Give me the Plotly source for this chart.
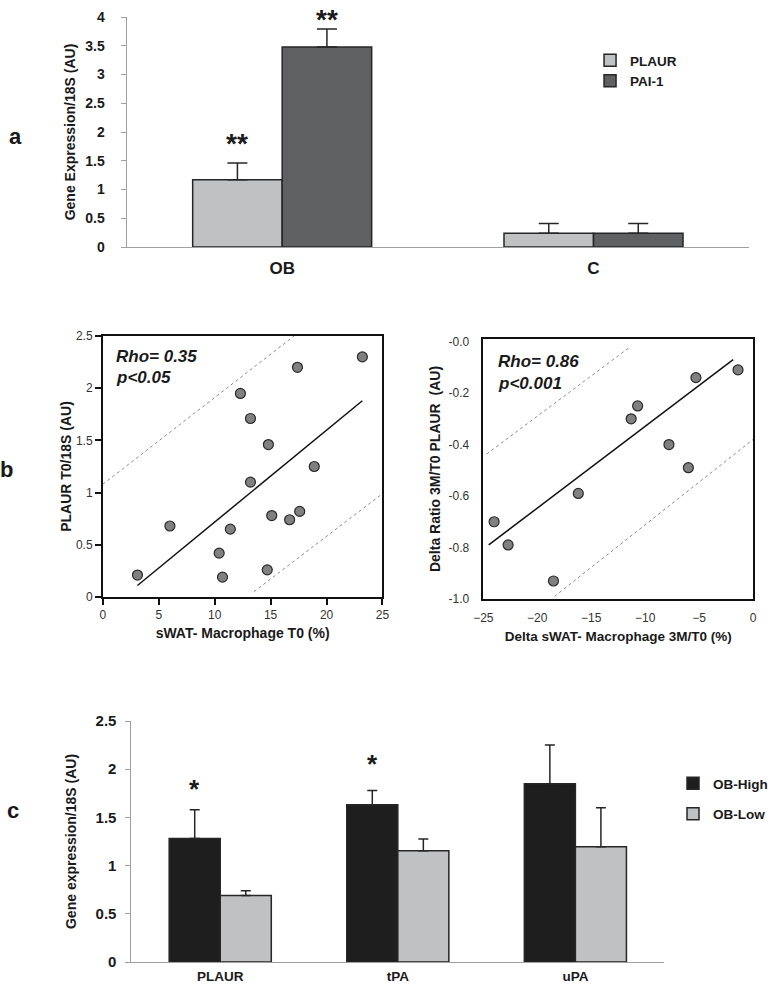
import plotly.graph_objects as go

# ---------------- data ----------------
# panel a
cats_a = ["OB", "C"]
plaur_a = [1.17, 0.24]
plaur_a_err = [0.29, 0.17]
pai1_a = [3.48, 0.24]
pai1_a_err = [0.31, 0.17]

# panel b (left)
mac_t0 = [3.1, 6.0, 10.4, 10.7, 11.4, 12.3, 13.2, 13.2, 14.8, 14.7, 15.1, 16.7, 17.6, 18.9, 17.4, 23.2]
plaur_t0 = [0.21, 0.68, 0.42, 0.19, 0.65, 1.95, 1.71, 1.10, 1.46, 0.26, 0.78, 0.74, 0.82, 1.25, 2.20, 2.30]
fit_l_x = [3.1, 23.2]
fit_l_y = [0.11, 1.88]
up_l_x = [0.0, 17.1]
up_l_y = [1.08, 2.50]
lo_l_x = [13.5, 25.0]
lo_l_y = [0.05, 0.99]

# panel b (right)
d_mac = [-24.0, -22.7, -18.5, -16.2, -11.3, -10.7, -7.8, -6.0, -5.3, -1.4]
d_plaur = [-0.70, -0.79, -0.93, -0.59, -0.30, -0.25, -0.40, -0.49, -0.14, -0.11]
fit_r_x = [-24.5, -1.85]
fit_r_y = [-0.79, -0.07]
up_r_x = [-24.7, -11.5]
up_r_y = [-0.437, -0.024]
lo_r_x = [-18.4, 0.0]
lo_r_y = [-0.99, -0.38]
r_yticks = [0.0, -0.2, -0.4, -0.6, -0.8, -1.0]
r_yticktext = ["-0.0", "-0.2", "-0.4", "-0.6", "-0.8", "-1.0"]
r_xticks = [-25, -20, -15, -10, -5, 0]

# panel c
cats_c = ["PLAUR", "tPA", "uPA"]
high_c = [1.28, 1.63, 1.85]
high_c_err = [0.30, 0.15, 0.40]
low_c = [0.69, 1.155, 1.195]
low_c_err = [0.05, 0.12, 0.405]

# ---------------- figure ----------------
W, H = 773, 986
FONT = "Liberation Sans, Arial, sans-serif"
LIGHT = "#c0c1c3"
DARK = "#5f6062"
BLACK = "#1e1e1e"
TXT = "#1a1a1a"


def px(p):
    return p / W


def py(p):
    return 1 - p / H


fig = go.Figure()

bar_line = dict(color="#262626", width=1.5)

# panel a
fig.add_trace(go.Bar(
    x=cats_a, y=plaur_a, name="PLAUR", marker=dict(color=LIGHT, line=bar_line),
    error_y=dict(type="data", symmetric=False, array=plaur_a_err, arrayminus=[0] * len(plaur_a),
                 color="#262626", thickness=1.5, width=10),
    xaxis="x", yaxis="y", legend="legend"))
fig.add_trace(go.Bar(
    x=cats_a, y=pai1_a, name="PAI-1", marker=dict(color=DARK, line=bar_line),
    error_y=dict(type="data", symmetric=False, array=pai1_a_err, arrayminus=[0] * len(pai1_a),
                 color="#262626", thickness=1.5, width=10),
    xaxis="x", yaxis="y", legend="legend"))

# panel b left
dot_line = dict(color="#8a8a8a", width=1, dash="dot")
fig.add_trace(go.Scatter(x=up_l_x, y=up_l_y, mode="lines", line=dot_line, showlegend=False,
                         xaxis="x2", yaxis="y2"))
fig.add_trace(go.Scatter(x=lo_l_x, y=lo_l_y, mode="lines", line=dot_line, showlegend=False,
                         xaxis="x2", yaxis="y2"))
fig.add_trace(go.Scatter(x=fit_l_x, y=fit_l_y, mode="lines", line=dict(color="#111", width=1.5),
                         showlegend=False, xaxis="x2", yaxis="y2"))
fig.add_trace(go.Scatter(x=mac_t0, y=plaur_t0, mode="markers",
                         marker=dict(size=10, color="#808080", line=dict(color="#2a2a2a", width=1.2)),
                         showlegend=False, xaxis="x2", yaxis="y2", cliponaxis=False))

# panel b right
fig.add_trace(go.Scatter(x=up_r_x, y=up_r_y, mode="lines", line=dot_line, showlegend=False,
                         xaxis="x3", yaxis="y3"))
fig.add_trace(go.Scatter(x=lo_r_x, y=lo_r_y, mode="lines", line=dot_line, showlegend=False,
                         xaxis="x3", yaxis="y3"))
fig.add_trace(go.Scatter(x=fit_r_x, y=fit_r_y, mode="lines", line=dict(color="#111", width=1.5),
                         showlegend=False, xaxis="x3", yaxis="y3"))
fig.add_trace(go.Scatter(x=d_mac, y=d_plaur, mode="markers",
                         marker=dict(size=10, color="#808080", line=dict(color="#2a2a2a", width=1.2)),
                         showlegend=False, xaxis="x3", yaxis="y3", cliponaxis=False))

# panel c
fig.add_trace(go.Bar(
    x=cats_c, y=high_c, name="OB-High", marker=dict(color=BLACK, line=bar_line),
    error_y=dict(type="data", symmetric=False, array=high_c_err, arrayminus=[0] * len(high_c),
                 color="#262626", thickness=1.5, width=5),
    xaxis="x4", yaxis="y4", legend="legend2", legendgroup="hi"))
fig.add_trace(go.Bar(
    x=cats_c, y=low_c, name="OB-Low", marker=dict(color=LIGHT, line=bar_line),
    error_y=dict(type="data", symmetric=False, array=low_c_err, arrayminus=[0] * len(low_c),
                 color="#262626", thickness=1.5, width=5),
    xaxis="x4", yaxis="y4", legend="legend2", legendgroup="lo"))

bold = dict(family=FONT, color=TXT, weight="bold")

common_bar_y = dict(showline=True, linecolor="#a0a0a0", linewidth=1, ticks="outside", ticklen=5,
                    tickcolor="#a0a0a0", showgrid=False, zeroline=False, automargin=False)
common_bar_x = dict(type="category", showline=True, linecolor="#a0a0a0", linewidth=1, ticks="",
                    showgrid=False, zeroline=False, automargin=False)
box = dict(showline=True, linecolor="#111", linewidth=1.5, mirror=True, showgrid=False,
           zeroline=False, automargin=False)

fig.update_layout(
    width=W, height=H, autosize=False,
    margin=dict(l=0, r=0, t=0, b=0),
    paper_bgcolor="white", plot_bgcolor="white",
    font=dict(family=FONT, color=TXT),
    barmode="group", bargap=0.425, bargroupgap=0,
    xaxis=dict(domain=[px(128), px(758)], anchor="y", range=[-0.5, 1.5],
               tickfont=dict(size=17, **bold), ticklabelstandoff=6, **common_bar_x),
    yaxis=dict(domain=[py(247), py(17)], anchor="x", range=[0, 4], dtick=0.5,
               tickfont=dict(size=14, **bold), ticklabelstandoff=13,
               title=dict(text="Gene Expression/18S (AU)", font=dict(size=14, **bold), standoff=6),
               **common_bar_y),
    xaxis2=dict(domain=[px(104), px(387)], anchor="y2", range=[0, 25], dtick=5,
                ticks="outside", ticklen=6, tickwidth=1.5, tickcolor="#111",
                tickfont=dict(size=12, family=FONT, color="#333"),
                title=dict(text="sWAT- Macrophage T0 (%)", font=dict(size=14, **bold), standoff=7),
                **box),
    yaxis2=dict(domain=[py(597), py(336)], anchor="x2", range=[0, 2.5], dtick=0.5,
                ticks="outside", ticklen=6, tickwidth=1.5, tickcolor="#111",
                tickfont=dict(size=12, family=FONT, color="#333"),
                title=dict(text="PLAUR T0/18S (AU)", font=dict(size=14, **bold), standoff=1),
                **box),
    xaxis3=dict(domain=[px(489), px(762)], anchor="y3", range=[-25, 0], tickvals=r_xticks,
                ticks="", tickfont=dict(size=12, family=FONT, color="#333"), ticklabelstandoff=7,
                title=dict(text="Delta sWAT- Macrophage 3M/T0 (%)", font=dict(size=13.5, **bold), standoff=7),
                **box),
    yaxis3=dict(domain=[py(599), py(339)], anchor="x3", range=[-1.0, 0.01], tickvals=r_yticks,
                ticktext=r_yticktext, ticks="", ticklabelstandoff=10,
                tickfont=dict(size=12, family=FONT, color="#333"),
                title=dict(text="Delta Ratio 3M/T0 PLAUR\u00a0 (AU)", font=dict(size=14, **bold), standoff=5),
                **box),
    xaxis4=dict(domain=[px(133), px(672)], anchor="y4", range=[-0.5, 2.5],
                tickfont=dict(size=13.5, **bold), ticklabelstandoff=2, **common_bar_x),
    yaxis4=dict(domain=[py(962), py(721)], anchor="x4", range=[0, 2.5], dtick=0.5,
                tickfont=dict(size=15, **bold), ticklabelstandoff=6,
                title=dict(text="Gene expression/18S (AU)", font=dict(size=14, **bold), standoff=15),
                **common_bar_y),
    legend=dict(x=px(597), y=py(45), xanchor="left", yanchor="top", bgcolor="rgba(0,0,0,0)",
                font=dict(size=13.5, **bold), itemwidth=30),
    legend2=dict(x=px(681), y=py(768), xanchor="left", yanchor="top", bgcolor="rgba(0,0,0,0)",
                 font=dict(size=13.5, **bold), itemwidth=30, traceorder="grouped", tracegroupgap=10),
)

off = (1 - 0.425) / 4  # centre offset of each bar within its group

annotations = [
    # panel labels
    dict(text="a", x=px(16), y=py(136), xref="paper", yref="paper", showarrow=False,
         xanchor="center", yanchor="middle", font=dict(size=22, **bold)),
    dict(text="b", x=px(7), y=py(469), xref="paper", yref="paper", showarrow=False,
         xanchor="center", yanchor="middle", font=dict(size=22, **bold)),
    dict(text="c", x=px(13), y=py(810), xref="paper", yref="paper", showarrow=False,
         xanchor="center", yanchor="middle", font=dict(size=22, **bold)),
    # significance marks panel a
    dict(text="**", x=0 - off, y=plaur_a[0] + plaur_a_err[0], xref="x", yref="y", showarrow=False,
         xanchor="center", yanchor="middle", yshift=20, font=dict(size=28, **bold)),
    dict(text="**", x=0 + off, y=pai1_a[0] + pai1_a_err[0], xref="x", yref="y", showarrow=False,
         xanchor="center", yanchor="middle", yshift=10, font=dict(size=28, **bold)),
    # significance marks panel c
    dict(text="*", x=0 - off, y=high_c[0] + high_c_err[0], xref="x4", yref="y4", showarrow=False,
         xanchor="center", yanchor="middle", yshift=21, font=dict(size=26, **bold)),
    dict(text="*", x=1 - off, y=high_c[1] + high_c_err[1], xref="x4", yref="y4", showarrow=False,
         xanchor="center", yanchor="middle", yshift=26, font=dict(size=26, **bold)),
    # correlation stats
    dict(text="<b><i>Rho= 0.35</i></b>", x=1.0, y=2.30, xref="x2", yref="y2", showarrow=False,
         xanchor="left", yanchor="middle", font=dict(size=17, family=FONT, color=TXT)),
    dict(text="<b><i>p<0.05</i></b>", x=1.0, y=2.10, xref="x2", yref="y2", showarrow=False,
         xanchor="left", yanchor="middle", font=dict(size=17, family=FONT, color=TXT)),
    dict(text="<b><i>Rho= 0.86</i></b>", x=-23.8, y=-0.078, xref="x3", yref="y3", showarrow=False,
         xanchor="left", yanchor="middle", font=dict(size=17, family=FONT, color=TXT)),
    dict(text="<b><i>p<0.001</i></b>", x=-23.8, y=-0.161, xref="x3", yref="y3", showarrow=False,
         xanchor="left", yanchor="middle", font=dict(size=17, family=FONT, color=TXT)),
]
fig.update_layout(annotations=annotations)

# remove the default 8px page margin so the 773x986 figure fills the window exactly
fig.write_html(
    "out.html",
    config={"displayModeBar": False},
    post_script="document.documentElement.style.overflow='hidden';"
                "document.body.style.margin='0';document.body.style.overflow='hidden';",
)
